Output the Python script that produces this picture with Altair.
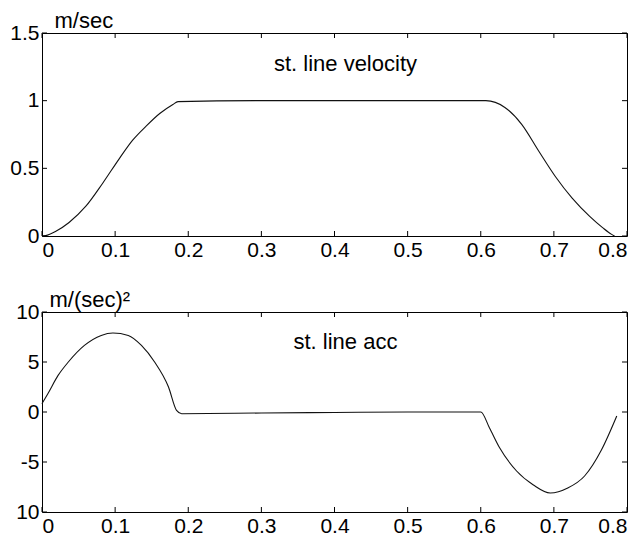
import altair as alt
import pandas as pd

# ---- data ----
vel_t = [0, 0.005, 0.019, 0.037, 0.060, 0.083, 0.106, 0.124, 0.143, 0.161, 0.179, 0.186,
         0.3, 0.4, 0.5, 0.607, 0.633, 0.656, 0.679, 0.702, 0.725, 0.749, 0.767, 0.779, 0.783]
vel_v = [0, 0.003, 0.035, 0.10, 0.22, 0.39, 0.574, 0.708, 0.815, 0.905, 0.972, 0.993,
         1.0, 1.0, 1.0, 1.0, 0.95, 0.825, 0.63, 0.44, 0.28, 0.145, 0.06, 0.012, 0.0]

acc_t = [0, 0.008, 0.022, 0.036, 0.058, 0.081, 0.097, 0.118, 0.136, 0.154, 0.173, 0.184, 0.191,
         0.3, 0.4, 0.5, 0.6, 0.612, 0.626, 0.649, 0.672, 0.695, 0.719, 0.742, 0.765, 0.786]
acc_a = [0.83, 1.83, 3.66, 5.0, 6.66, 7.66, 7.9, 7.66, 6.66, 5.0, 2.5, 0.16, -0.17,
         -0.1, -0.05, 0.0, 0.0, -1.6, -3.6, -5.9, -7.3, -8.1, -7.6, -6.4, -3.8, -0.4]

x_ticks = [0, 0.1, 0.2, 0.3, 0.4, 0.5, 0.6, 0.7, 0.8]
vel_ticks = [0, 0.5, 1, 1.5]
acc_ticks = [-10, -5, 0, 5, 10]

vel_unit = "m/sec"
acc_unit = "m/(sec)²"
vel_label = ["st. line velocity"]
acc_label = ["st. line acc"]
label_x = [0.415]
vel_label_y = [1.27]
acc_label_y = [7.0]

W = 585
H1 = 203
H2 = 200
FONT = "Liberation Sans"
TICK = 5


def panel(t, y, ydomain, yticks, unit, unit_x, label, lx, ly, h, ylabel_expr):
    xscale = alt.Scale(domain=[0, 0.8], nice=False, zero=False)
    yscale = alt.Scale(domain=ydomain, nice=False, zero=False)
    xaxis = alt.Axis(values=x_ticks, format="~g", ticks=False, domain=False, grid=False,
                     labelFont=FONT, labelFontSize=21, labelColor="black", labelPadding=3,
                     title=None)
    yaxis = alt.Axis(values=yticks, ticks=False, domain=False, grid=False,
                     labelFont=FONT, labelFontSize=21, labelColor="black", labelPadding=3,
                     labelExpr=ylabel_expr,
                     title=unit, titleAngle=0, titleAlign="left", titleBaseline="alphabetic",
                     titleX=unit_x, titleY=-6, titleFont=FONT, titleFontSize=22,
                     titleFontWeight="normal", titleColor="black")
    df = pd.DataFrame({"t": t, "y": y})
    line = alt.Chart(df).mark_line(color="#111", strokeWidth=1.1, interpolate="monotone").encode(
        x=alt.X("t:Q", scale=xscale, axis=xaxis),
        y=alt.Y("y:Q", scale=yscale, axis=yaxis),
    )
    txt = alt.Chart(pd.DataFrame({"t": lx, "y": ly, "label": label})).mark_text(
        font=FONT, fontSize=22, color="black", align="center", baseline="middle"
    ).encode(x=alt.X("t:Q", scale=xscale), y=alt.Y("y:Q", scale=yscale), text="label:N")

    xt = pd.DataFrame({"t": x_ticks})
    yt = pd.DataFrame({"y": yticks})
    bot = alt.Chart(xt).mark_rule(color="black", strokeWidth=1).encode(
        x=alt.X("t:Q", scale=xscale), y=alt.value(h), y2=alt.value(h - TICK))
    top = alt.Chart(xt).mark_rule(color="black", strokeWidth=1).encode(
        x=alt.X("t:Q", scale=xscale), y=alt.value(0), y2=alt.value(TICK))
    left = alt.Chart(yt).mark_rule(color="black", strokeWidth=1).encode(
        y=alt.Y("y:Q", scale=yscale), x=alt.value(0), x2=alt.value(TICK))
    right = alt.Chart(yt).mark_rule(color="black", strokeWidth=1).encode(
        y=alt.Y("y:Q", scale=yscale), x=alt.value(W), x2=alt.value(W - TICK))
    return alt.layer(line, txt, bot, top, left, right).properties(width=W, height=h)


vel_panel = panel(vel_t, vel_v, [0, 1.5], vel_ticks, vel_unit, 12, vel_label, label_x, vel_label_y, H1,
                  "'' + datum.value")
acc_panel = panel(acc_t, acc_a, [-10, 10], acc_ticks, acc_unit, 7, acc_label, label_x, acc_label_y, H2,
                  "datum.value == -10 ? '10' : '' + datum.value")

chart = alt.vconcat(vel_panel, acc_panel, spacing=26).properties(
    padding={"left": 1, "top": 0, "right": 2, "bottom": 0},
    background="white",
).configure_view(stroke="black", strokeWidth=1)

chart.save("out.html", embed_options={"renderer": "svg", "actions": False})
